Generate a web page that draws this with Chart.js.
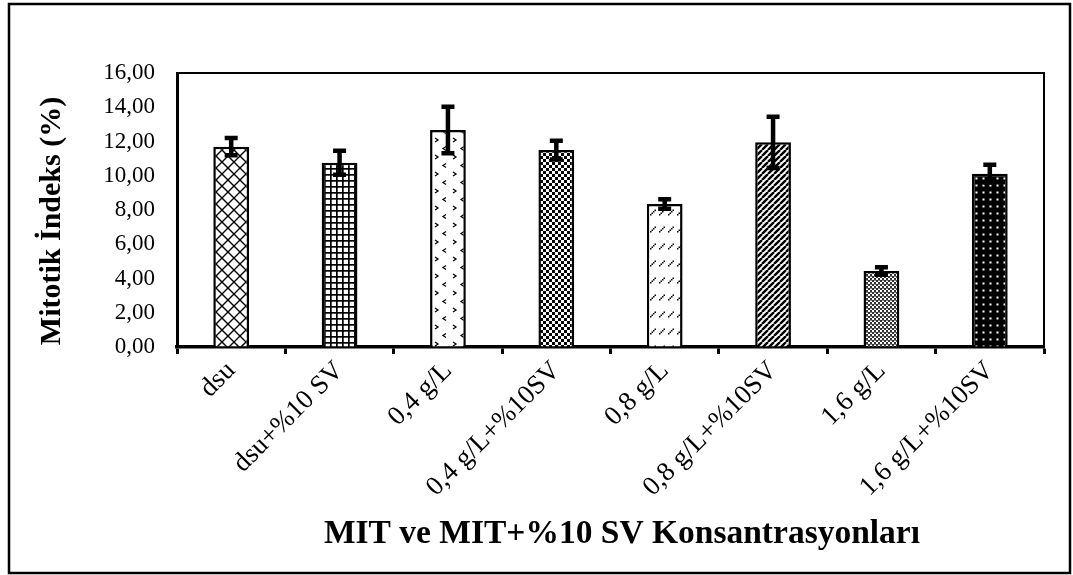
<!DOCTYPE html>
<html>
<head>
<meta charset="utf-8">
<script src="https://cdn.jsdelivr.net/npm/chart.js@4.4.1/dist/chart.umd.min.js"></script>
<style>
  html, body { margin: 0; padding: 0; background: #fff; }
  #wrap { width: 1073px; height: 575px; position: relative; }
</style>
</head>
<body>
<div id="wrap"><canvas id="c" width="1073" height="575"></canvas></div>
<script>
// Mitotic index per treatment group (mean and error)
const categories = ['dsu', 'dsu+%10 SV', '0,4 g/L', '0,4 g/L+%10SV', '0,8 g/L', '0,8 g/L+%10SV', '1,6 g/L', '1,6 g/L+%10SV'];
const meanValues = [11.70, 10.76, 12.67, 11.50, 8.35, 11.95, 4.44, 10.12];
const errorValues = [0.50, 0.70, 1.36, 0.55, 0.28, 1.50, 0.22, 0.52];
const yTickLabels = ['0,00', '2,00', '4,00', '6,00', '8,00', '10,00', '12,00', '14,00', '16,00'];
const yAxisTitle = 'Mitotik İndeks (%)';
const xAxisTitle = 'MIT ve MIT+%10 SV Konsantrasyonları';

const SERIF = '"Liberation Serif", "Times New Roman", serif';

// Black-and-white fill patterns, one per bar
function makePattern(w, h, draw, bg) {
  const cv = document.createElement('canvas');
  cv.width = w; cv.height = h;
  const g = cv.getContext('2d');
  g.fillStyle = bg || '#fff';
  g.fillRect(0, 0, w, h);
  g.fillStyle = '#000';
  g.strokeStyle = '#000';
  draw(g, w, h);
  return g.createPattern(cv, 'repeat');
}

const fills = [
  // diagonal cross-hatch
  makePattern(12, 12, (g) => {
    g.lineWidth = 1.4;
    g.beginPath();
    g.moveTo(-1, -1); g.lineTo(13, 13);
    g.moveTo(13, -1); g.lineTo(-1, 13);
    g.stroke();
  }),
  // square grid
  makePattern(6, 6, (g) => {
    g.fillRect(0, 0, 6, 1.7);
    g.fillRect(0, 0, 1.7, 6);
  }),
  // sparse chevrons
  makePattern(18, 17, (g) => {
    g.lineWidth = 1.3;
    g.beginPath();
    g.moveTo(3, 2); g.lineTo(6, 4); g.lineTo(3, 6);
    g.moveTo(14, 10.5); g.lineTo(11, 12.5); g.lineTo(14, 14.5);
    g.stroke();
  }),
  // small checkerboard
  makePattern(6, 6, (g) => {
    g.fillRect(0, 0, 3, 3);
    g.fillRect(3, 3, 3, 3);
  }),
  // dashed upward diagonal
  makePattern(9, 17, (g) => {
    g.fillRect(2, 10, 1.5, 1.5);
    g.fillRect(3.5, 8.5, 1.5, 1.5);
    g.fillRect(5, 7, 1.5, 1.5);
    g.fillRect(6.5, 5.5, 1.5, 1.5);
  }),
  // wide upward diagonal
  makePattern(6, 6, (g) => {
    g.lineWidth = 2.4;
    g.beginPath();
    for (const k of [-6, 0, 6]) { g.moveTo(k, 6); g.lineTo(k + 6, 0); }
    g.stroke();
  }),
  // fine checker (grey look)
  makePattern(4, 4, (g) => {
    g.fillStyle = '#333';
    g.fillRect(0, 0, 2, 2);
    g.fillRect(2, 2, 2, 2);
    g.fillStyle = '#888';
    g.fillRect(2, 0, 2, 1);
  }),
  // white dots on black
  makePattern(7, 7, (g) => {
    g.fillStyle = '#fff';
    g.fillRect(2.5, 2.5, 2, 2);
  }, '#000')
];

// Error bars drawn from the y scale
const errorBarPlugin = {
  id: 'errorBars',
  afterDatasetsDraw(chart) {
    const { ctx } = chart;
    const y = chart.scales.y;
    const meta = chart.getDatasetMeta(0);
    ctx.save();
    ctx.strokeStyle = '#000';
    ctx.lineWidth = 4.5;
    ctx.lineCap = 'butt';
    meta.data.forEach((bar, i) => {
      const m = meanValues[i], e = errorValues[i];
      const top = y.getPixelForValue(m + e);
      const bot = y.getPixelForValue(m - e);
      const x = bar.x;
      ctx.beginPath();
      ctx.moveTo(x, top); ctx.lineTo(x, bot);
      ctx.moveTo(x - 6.5, top); ctx.lineTo(x + 6.5, top);
      ctx.moveTo(x - 6.5, bot); ctx.lineTo(x + 6.5, bot);
      ctx.stroke();
    });
    ctx.restore();
  }
};

// Background, frames and axis titles
const framePlugin = {
  id: 'frame',
  beforeDraw(chart) {
    const { ctx } = chart;
    ctx.save();
    ctx.fillStyle = '#fff';
    ctx.fillRect(0, 0, chart.width, chart.height);
    ctx.restore();
  },
  afterDraw(chart) {
    const { ctx, chartArea: a } = chart;
    ctx.save();
    ctx.strokeStyle = '#000';
    // outer frame
    ctx.lineWidth = 2.5;
    ctx.strokeRect(9, 4, 1061, 569);
    // plot box top and right edges
    ctx.lineWidth = 2;
    ctx.beginPath();
    ctx.moveTo(a.left, a.top);
    ctx.lineTo(a.right, a.top);
    ctx.lineTo(a.right, a.bottom);
    ctx.stroke();
    // axis titles
    ctx.fillStyle = '#000';
    ctx.textAlign = 'center';
    ctx.textBaseline = 'middle';
    ctx.font = 'bold 33.5px ' + SERIF;
    ctx.fillText(xAxisTitle, 622, 534);
    ctx.translate(52, 221);
    ctx.rotate(-Math.PI / 2);
    ctx.font = 'bold 30px ' + SERIF;
    ctx.fillText(yAxisTitle, 0, 0);
    ctx.restore();
  }
};

new Chart(document.getElementById('c'), {
  type: 'bar',
  data: {
    labels: categories,
    datasets: [{
      data: meanValues,
      backgroundColor: fills,
      borderColor: '#000',
      borderWidth: 2.5,
      barPercentage: 0.33,
      categoryPercentage: 1.0
    }]
  },
  options: {
    responsive: false,
    animation: false,
    devicePixelRatio: 1,
    layout: { padding: { left: 0, top: 73, right: 29, bottom: 0 } },
    plugins: { legend: { display: false }, tooltip: { enabled: false } },
    scales: {
      x: {
        offset: true,
        grid: { display: true, drawOnChartArea: false, offset: true, drawTicks: true, tickLength: 7, tickWidth: 3, tickColor: '#000' },
        border: { display: true, color: '#000', width: 3.5 },
        ticks: {
          autoSkip: false, minRotation: 45, maxRotation: 45, padding: 1,
          color: '#000', font: { family: SERIF, size: 27 }
        },
        afterFit(s) { s.height = 228; }
      },
      y: {
        min: 0, max: 16,
        grid: { display: true, drawOnChartArea: false, drawTicks: false },
        border: { display: true, color: '#000', width: 3 },
        ticks: {
          stepSize: 2, padding: 22, color: '#000',
          font: { family: SERIF, size: 23 },
          callback: (v, i) => yTickLabels[i]
        },
        afterFit(s) { s.width = 177; }
      }
    }
  },
  plugins: [framePlugin, errorBarPlugin]
});
</script>
</body>
</html>
